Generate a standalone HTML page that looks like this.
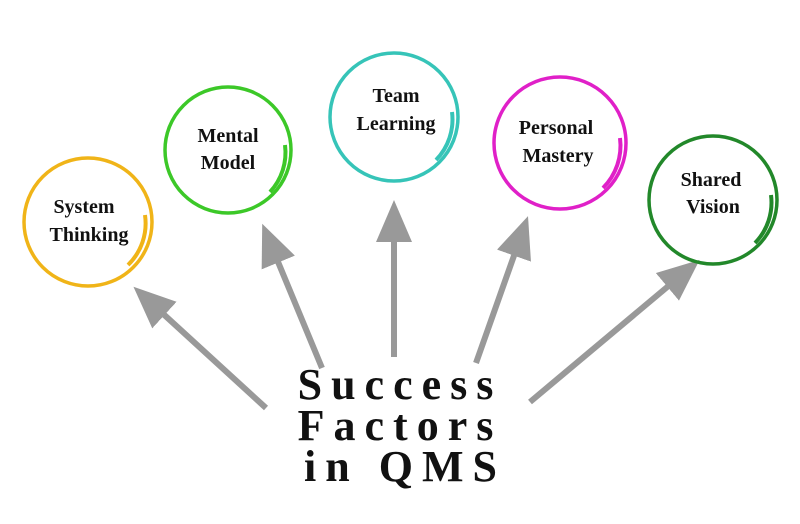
<!DOCTYPE html>
<html><head><style>body{margin:0;background:#fff}svg{display:block}</style></head><body>
<svg width="800" height="524" viewBox="0 0 800 524" xmlns="http://www.w3.org/2000/svg">
<defs><marker id="a" markerWidth="7" markerHeight="6" refX="1" refY="3" orient="auto"><path d="M0,0 L7,3 L0,6 Z" fill="#999"/></marker></defs>
<g stroke="#999" stroke-width="6" fill="none" marker-end="url(#a)">
<line x1="266" y1="408" x2="160" y2="311"/>
<line x1="322" y1="368" x2="276" y2="257"/>
<line x1="394" y1="357" x2="394" y2="236"/>
<line x1="476" y1="363" x2="516" y2="250"/>
<line x1="530" y1="402" x2="672" y2="283"/>
</g>
<g fill="none">
<circle cx="88" cy="222" r="64" stroke="#f0b418" stroke-width="3.5"/>
<path d="M145,215 A58,58 0 0 1 128,265" stroke="#f0b418" stroke-width="4"/>
<circle cx="228" cy="150" r="63" stroke="#3cc828" stroke-width="3.5"/>
<path d="M285,145 A58,58 0 0 1 270,192" stroke="#3cc828" stroke-width="4"/>
<circle cx="394" cy="117" r="64" stroke="#36c4b8" stroke-width="3.5"/>
<path d="M452,112 A58,58 0 0 1 436,160" stroke="#36c4b8" stroke-width="4"/>
<circle cx="560" cy="143" r="66" stroke="#e020c8" stroke-width="3.5"/>
<path d="M620,138 A60,60 0 0 1 603,188" stroke="#e020c8" stroke-width="4"/>
<circle cx="713" cy="200" r="64" stroke="#22882a" stroke-width="3.5"/>
<path d="M771,195 A58,58 0 0 1 755,243" stroke="#22882a" stroke-width="4"/>
</g>
<g font-family="Liberation Serif, serif" font-weight="bold" font-size="20" text-anchor="middle" fill="#111">
<text x="84" y="213">System</text><text x="89" y="241">Thinking</text>
<text x="228" y="142">Mental</text><text x="228" y="169">Model</text>
<text x="396" y="102">Team</text><text x="396" y="130">Learning</text>
<text x="556" y="134">Personal</text><text x="558" y="162">Mastery</text>
<text x="711" y="186">Shared</text><text x="713" y="213">Vision</text>
</g>
<g font-family="Liberation Serif, serif" font-weight="bold" font-size="44" text-anchor="middle" fill="#111" letter-spacing="9">
<text x="400" y="399">Success</text>
<text x="400" y="440">Factors</text>
<text x="405" y="481">in QMS</text>
</g>
</svg>
</body></html>
